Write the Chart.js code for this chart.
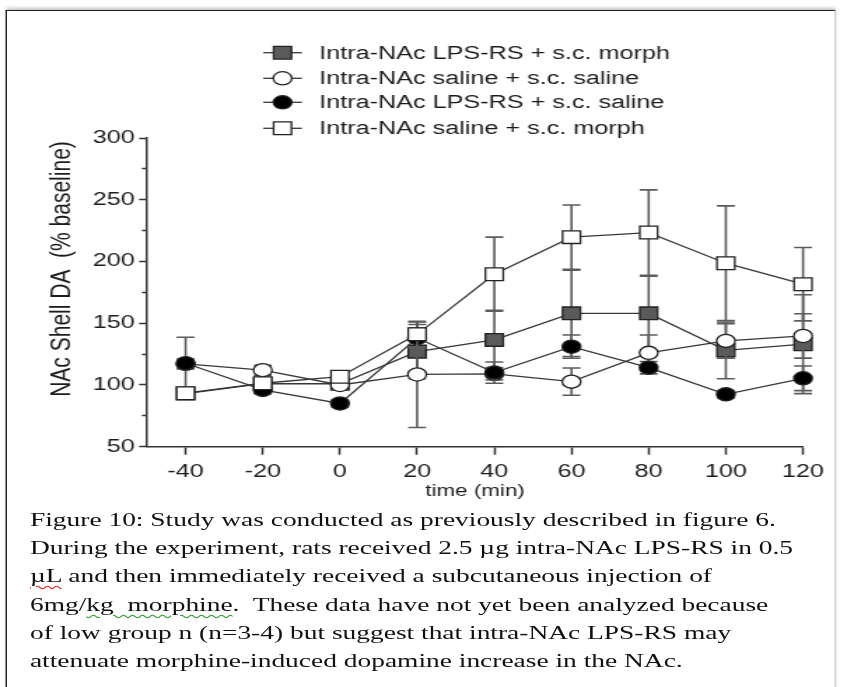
<!DOCTYPE html>
<html>
<head>
<meta charset="utf-8">
<title>NAc Shell DA</title>
<script src="https://cdn.jsdelivr.net/npm/chart.js@4.4.1/dist/chart.umd.min.js"></script>
<style>
  html, body { margin: 0; padding: 0; background: #fff; overflow: hidden; }
  /* the source picture is stretched sideways, so the whole page is drawn narrow and widened */
  #page { position: absolute; left: 0; top: 0; width: 602px; height: 687px; transform: scaleX(1.4); transform-origin: 0 0; }
  #frame { position: absolute; left: 3.6px; top: 10px; width: 591px; height: 700px;
           border-left: 1.5px solid #222; border-top: 1.5px solid #222; border-right: 1px solid #cfcfcf;
           box-shadow: 0 -2px 3px rgba(0,0,0,0.25); }
  #chart { position: absolute; left: 0; top: 0; }
  #caption { position: absolute; left: 21.4px; top: 506px; font-family: "Liberation Serif", serif;
             font-size: 19.6px; line-height: 28.2px; color: #111; white-space: pre; }
  .spell { text-decoration: underline wavy #e02020; text-decoration-thickness: 1px; text-underline-offset: 3px; }
  .gram  { text-decoration: underline wavy #2e9a2e; text-decoration-thickness: 1px; text-underline-offset: 3px; }
</style>
</head>
<body>
<div id="page">
  <div id="frame"></div>
  <canvas id="chart" width="602" height="500"></canvas>
  <div id="caption">Figure 10: Study was conducted as previously described in figure 6.
During the experiment, rats received 2.5 µg intra-NAc LPS-RS in 0.5
<span class="spell">µL</span> and then immediately received a subcutaneous injection of
6mg/<span class="gram">kg  morphine</span>.  These data have not yet been analyzed because
of low group n (n=3-4) but suggest that intra-NAc LPS-RS may
attenuate morphine-induced dopamine increase in the NAc.</div>
</div>
<script>
const timeMin = [-40, -20, 0, 20, 40, 60, 80, 100, 120];

const seriesNames = [
    'Intra-NAc LPS-RS + s.c. morph',
    'Intra-NAc saline + s.c. saline',
    'Intra-NAc LPS-RS + s.c. saline',
    'Intra-NAc saline + s.c. morph'
];

// mean and SEM, % baseline
const lpsMorphMean = [93, 101, 101, 127, 136.5, 158, 158, 128, 133];
const lpsMorphSem  = [4, 4, 4, 22, 24, 35, 30, 23, 40];
const salSalMean   = [117, 112, 100, 108.5, 109, 102.7, 126, 135.7, 139.7];
const salSalSem    = [4, 4, 4, 43, 5, 11, 14.5, 14, 18];
const lpsSalMean   = [117.6, 96, 85, 138, 110, 131, 114, 92.4, 105.4];
const lpsSalSem    = [21, 3, 3, 8, 8.6, 9.4, 5, 3, 10];
const salMorphMean = [93.3, 101.4, 106.7, 141, 189.7, 219.7, 223.4, 198.6, 181.6];
const salMorphSem  = [4, 4, 4, 10, 30, 26, 34.6, 46.4, 29.7];

const xTicks = [-40, -20, 0, 20, 40, 60, 80, 100, 120];
const yTicks = [50, 75, 100, 125, 150, 175, 200, 225, 250, 275, 300];
const yLabelTicks = [50, 100, 150, 200, 250, 300];

const yTitle = 'NAc Shell DA  (% baseline)';
const xTitle = 'time (min)';

const lineColor = '#383838';

function makeSeries(label, mean, sem, marker, fill, order) {
    return {
        label: label,
        data: timeMin.map((t, i) => ({x: t, y: mean[i]})),
        sem: sem,
        borderColor: lineColor,
        borderWidth: 1.3,
        pointStyle: marker,
        pointRadius: marker === 'rect' ? 9.0 : 6.6,
        pointBackgroundColor: fill,
        pointBorderColor: '#222',
        pointBorderWidth: 1.3,
        tension: 0,
        clip: false,
        order: order
    };
}

let datasets = [
    makeSeries(seriesNames[0], lpsMorphMean, lpsMorphSem, 'rect', '#5a5a5a', 3),
    makeSeries(seriesNames[1], salSalMean, salSalSem, 'circle', '#ffffff', 2),
    makeSeries(seriesNames[2], lpsSalMean, lpsSalSem, 'circle', '#000000', 1),
    makeSeries(seriesNames[3], salMorphMean, salMorphSem, 'rect', '#ffffff', 0)
];

function drawMarker(ctx, ds, x, y) {
    ctx.beginPath();
    if (ds.pointStyle === 'rect') {
        let h = ds.pointRadius * Math.SQRT1_2;
        ctx.rect(x - h, y - h, 2 * h, 2 * h);
    } else {
        ctx.arc(x, y, ds.pointRadius, 0, Math.PI * 2);
    }
    ctx.fillStyle = ds.pointBackgroundColor;
    ctx.fill();
    ctx.lineWidth = ds.pointBorderWidth;
    ctx.strokeStyle = ds.pointBorderColor;
    ctx.stroke();
}

// error bars go under each series' own markers
const errorBars = {
    id: 'errorBars',
    beforeDatasetDraw(chart, args) {
        let ds = chart.data.datasets[args.index];
        let ctx = chart.ctx;
        let xs = chart.scales.x, ys = chart.scales.y;
        ctx.save();
        ctx.strokeStyle = '#5c5c5c';
        ctx.lineWidth = 1.6;
        ds.data.forEach((p, i) => {
            let px = xs.getPixelForValue(p.x);
            let top = ys.getPixelForValue(p.y + ds.sem[i]);
            let bot = ys.getPixelForValue(p.y - ds.sem[i]);
            ctx.beginPath();
            ctx.moveTo(px, top); ctx.lineTo(px, bot);
            ctx.moveTo(px - 6.4, top); ctx.lineTo(px + 6.4, top);
            ctx.moveTo(px - 6.4, bot); ctx.lineTo(px + 6.4, bot);
            ctx.stroke();
        });
        ctx.restore();
    }
};

const legendRows = [52.7, 78.3, 102.3, 128.3];

const legendAndTitle = {
    id: 'legendAndTitle',
    afterDraw(chart) {
        let ctx = chart.ctx;
        ctx.save();
        chart.data.datasets.forEach((ds, i) => {
            let y = legendRows[i];
            ctx.beginPath();
            ctx.moveTo(188, y); ctx.lineTo(215.7, y);
            ctx.strokeStyle = lineColor;
            ctx.lineWidth = 1.3;
            ctx.stroke();
            drawMarker(ctx, ds, 201.8, y);
            ctx.fillStyle = '#1c1c1c';
            ctx.font = '18px "Liberation Sans"';
            ctx.textBaseline = 'middle';
            ctx.textAlign = 'left';
            ctx.fillText(ds.label, 228, y + 1);
        });
        ctx.translate(44.3, 269);
        ctx.rotate(-Math.PI / 2);
        ctx.font = '21px "Liberation Sans"';
        ctx.textAlign = 'center';
        ctx.textBaseline = 'middle';
        ctx.fillStyle = '#1c1c1c';
        ctx.fillText(yTitle, 0, 0);
        ctx.restore();
    }
};

const tickFont = {family: 'Liberation Sans', size: 18};

new Chart(document.getElementById('chart').getContext('2d'), {
    type: 'line',
    data: {datasets: datasets},
    plugins: [errorBars, legendAndTitle],
    options: {
        responsive: false,
        maintainAspectRatio: false,
        animation: false,
        events: [],
        layout: {padding: {left: 0, right: 28.4, top: 138, bottom: 0}},
        plugins: {
            legend: {display: false},
            tooltip: {enabled: false}
        },
        scales: {
            x: {
                type: 'linear',
                min: -50,
                max: 120,
                afterFit: s => { s.height = 53.3; },
                afterBuildTicks: s => { s.ticks = xTicks.map(v => ({value: v})); },
                ticks: {color: '#1c1c1c', font: tickFont, padding: 7, maxRotation: 0, autoSkip: false},
                grid: {drawOnChartArea: false, tickLength: 8, tickColor: '#333', tickWidth: 1.5},
                border: {color: '#333', width: 1.5},
                title: {display: true, text: xTitle, color: '#1c1c1c',
                        font: {family: 'Liberation Sans', size: 16, lineHeight: 1}, padding: 0}
            },
            y: {
                min: 50,
                max: 300,
                afterFit: s => { s.width = 105; },
                afterBuildTicks: s => { s.ticks = yTicks.map(v => ({value: v})); },
                ticks: {
                    color: '#1c1c1c', font: tickFont, padding: 3, autoSkip: false,
                    callback: v => yLabelTicks.includes(v) ? String(v) : ''
                },
                grid: {
                    drawOnChartArea: false, tickLength: 5.7, tickColor: '#333', tickWidth: 1.5,
                    tickBorderDash: c => (c.tick && yLabelTicks.includes(c.tick.value)) ? [] : [0, 2.1, 100]
                },
                border: {color: '#333', width: 1.5}
            }
        }
    }
});
</script>
</body>
</html>
